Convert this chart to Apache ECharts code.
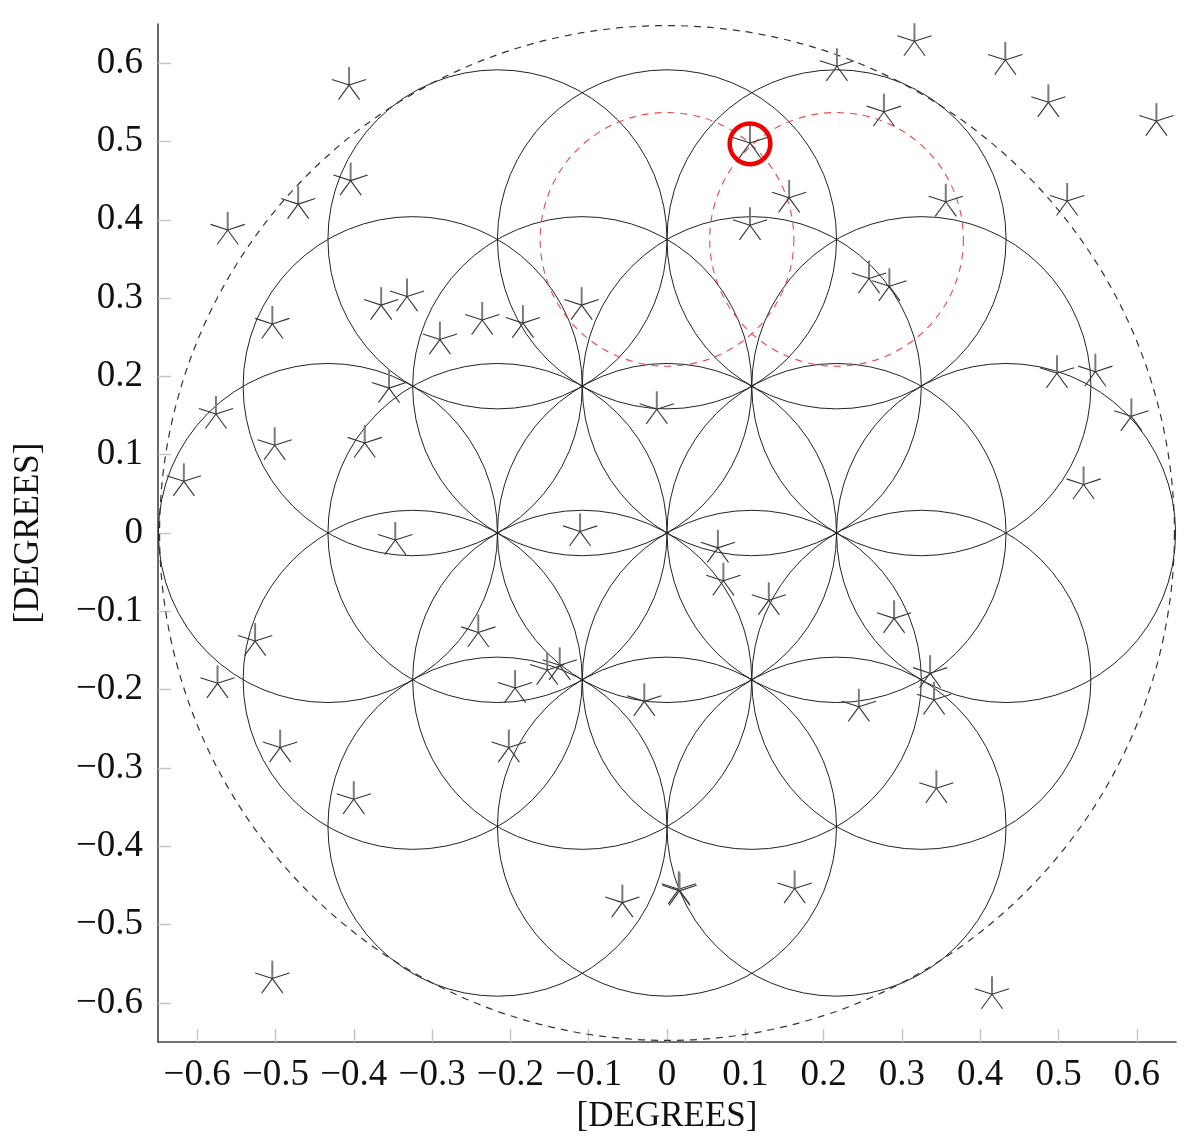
<!DOCTYPE html>
<html>
<head>
<meta charset="utf-8">
<script src="https://cdn.jsdelivr.net/npm/echarts@6/dist/echarts.min.js"></script>
<style>
  html, body { margin: 0; padding: 0; background: #fff; }
  #chart { width: 1200px; height: 1148px; }
</style>
</head>
<body>
<div id="chart"></div>
<script>
// ---- data ----
const tickValues = [-0.6, -0.5, -0.4, -0.3, -0.2, -0.1, 0, 0.1, 0.2, 0.3, 0.4, 0.5, 0.6];

// 19 field-of-view circles (hexagonal layout)
const cellX = [-0.2165, 0, 0.2165,
               -0.3248, -0.1083, 0.1083, 0.3248,
               -0.433, -0.2165, 0, 0.2165, 0.433,
               -0.3248, -0.1083, 0.1083, 0.3248,
               -0.2165, 0, 0.2165];
const cellY = [0.375, 0.375, 0.375,
               0.1875, 0.1875, 0.1875, 0.1875,
               0, 0, 0, 0, 0,
               -0.1875, -0.1875, -0.1875, -0.1875,
               -0.375, -0.375, -0.375];
const cellRadius = 0.2165;

// outer dashed circle
const outerX = [0];
const outerY = [0];
const outerRadius = 0.648;

// red dashed circles
const redX = [0, 0.2165];
const redY = [0.375, 0.375];
const redRadius = 0.162;

// red target ring
const targetX = [0.106];
const targetY = [0.497];
const targetRadius = 0.026;

// stars
const starX = [-0.406, -0.404, -0.471, -0.561, -0.365, -0.332, -0.504, -0.236, -0.290,
               0.217, 0.106, 0.156, 0.106, -0.109, -0.184,
               0.316, 0.432, 0.487, 0.625, 0.277, 0.356, 0.511, 0.258, 0.284,
               -0.355, -0.576, -0.501, -0.386, -0.617, -0.347, -0.526, -0.241, -0.574,
               -0.013, -0.111, 0.065, 0.072, 0.130, -0.137, -0.153, -0.194, -0.029,
               0.498, 0.547, 0.593, 0.532, 0.290, 0.336, 0.341, 0.245,
               -0.494, -0.400, -0.504, -0.202,
               -0.057, 0.015, 0.016, 0.163, 0.344, 0.415];
const starY = [0.572, 0.450, 0.420, 0.387, 0.291, 0.302, 0.267, 0.272, 0.247,
               0.596, 0.498, 0.428, 0.393, 0.291, 0.268,
               0.628, 0.604, 0.550, 0.526, 0.538, 0.423, 0.424, 0.325, 0.315,
               0.185, 0.152, 0.112, 0.115, 0.066, -0.009, -0.138, -0.127, -0.192,
               0.158, 0.002, -0.019, -0.061, -0.086, -0.169, -0.175, -0.198, -0.215,
               0.204, 0.206, 0.149, 0.062, -0.109, -0.179, -0.213, -0.222,
               -0.274, -0.340, -0.569, -0.274,
               -0.472, -0.455, -0.457, -0.454, -0.326, -0.589];

// ---- chart ----
const zip3 = (xs, ys, r) => xs.map((x, i) => [x, ys[i], r]);
const zip2 = (xs, ys) => xs.map((x, i) => [x, ys[i]]);

function circleRenderer(style) {
  return function (params, api) {
    const c = api.coord([api.value(0), api.value(1)]);
    const r = api.size([api.value(2), 0])[0];
    return {
      type: 'circle',
      shape: { cx: c[0], cy: c[1], r: r },
      style: Object.assign({ fill: 'none' }, style),
      silent: true
    };
  };
}

const ARM = 18;
const armDirs = [[0, -1], [0.951, -0.309], [0.588, 0.809], [-0.588, 0.809], [-0.951, -0.309]];
function starRenderer(params, api) {
  const c = api.coord([api.value(0), api.value(1)]);
  const children = armDirs.map((d, k) => ({
    type: 'line',
    shape: { x1: c[0], y1: c[1], x2: c[0] + d[0] * ARM, y2: c[1] + d[1] * ARM },
    style: k === 0 ? { stroke: '#7a7a7a', lineWidth: 2 } : { stroke: '#333', lineWidth: 1.1 }
  }));
  return { type: 'group', children: children, silent: true };
}

const labelFmt = v => String(v).replace('-', '\u2212');
const fontFamily = '"Liberation Serif", "DejaVu Serif", serif';

const axisCommon = {
  type: 'value',
  min: -0.65,
  max: 0.65,
  splitLine: { show: false },
  axisLine: { show: true, onZero: false, lineStyle: { color: '#444', width: 1.6 } },
  axisTick: { show: true, inside: true, length: 13, customValues: tickValues,
              lineStyle: { color: '#c4c4c4', width: 1.4 } },
  nameLocation: 'middle',
  nameTextStyle: { fontFamily: fontFamily, fontSize: 35, color: '#111' }
};

const option = {
  animation: false,
  backgroundColor: '#fff',
  grid: { left: 158, top: 24, width: 1018, height: 1018 },
  xAxis: Object.assign({}, axisCommon, {
    name: '[DEGREES]',
    nameGap: 57,
    axisLabel: { customValues: tickValues, formatter: labelFmt, margin: 15,
                 fontFamily: fontFamily, fontSize: 37, color: '#111' }
  }),
  yAxis: Object.assign({}, axisCommon, {
    name: '[DEGREES]',
    nameGap: 112,
    nameRotate: 90,
    axisLabel: { customValues: tickValues, formatter: labelFmt, margin: 15,
                 fontFamily: fontFamily, fontSize: 37, color: '#111' }
  }),
  series: [
    {
      type: 'custom', name: 'cells', renderItem: circleRenderer({ stroke: '#222', lineWidth: 1 }),
      data: zip3(cellX, cellY, cellRadius), encode: { x: 0, y: 1 }, clip: false, z: 2
    },
    {
      type: 'custom', name: 'outer', renderItem: circleRenderer({ stroke: '#333', lineWidth: 1.2, lineDash: [7, 6] }),
      data: zip3(outerX, outerY, outerRadius), encode: { x: 0, y: 1 }, clip: false, z: 2
    },
    {
      type: 'custom', name: 'redDashed', renderItem: circleRenderer({ stroke: '#f04848', lineWidth: 1.1, lineDash: [7, 6] }),
      data: zip3(redX, redY, redRadius), encode: { x: 0, y: 1 }, clip: false, z: 3
    },
    {
      type: 'custom', name: 'stars', renderItem: starRenderer,
      data: zip2(starX, starY), encode: { x: 0, y: 1 }, clip: false, z: 4
    },
    {
      type: 'custom', name: 'target', renderItem: circleRenderer({ stroke: '#ee0000', lineWidth: 4.5 }),
      data: zip3(targetX, targetY, targetRadius), encode: { x: 0, y: 1 }, clip: false, z: 5
    }
  ]
};

const chart = echarts.init(document.getElementById('chart'), null, { renderer: 'canvas' });
chart.setOption(option);
</script>
</body>
</html>
